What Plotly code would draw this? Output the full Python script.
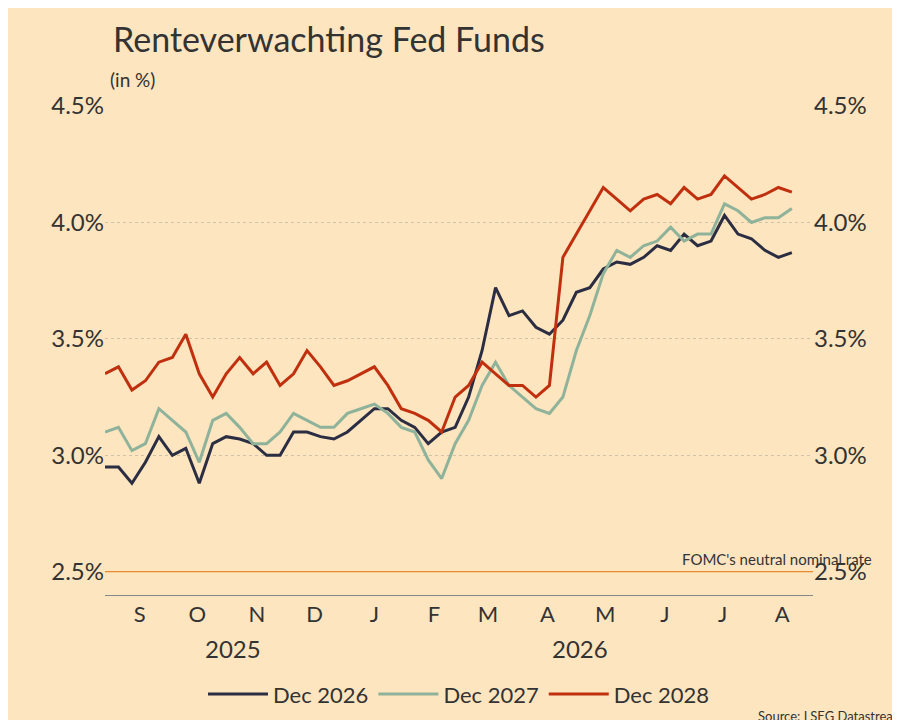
import pandas as pd
import plotly.graph_objects as go

dates = pd.date_range("2025-08-28", periods=52, freq="7D")
dec_2026 = [2.95, 2.95, 2.88, 2.97, 3.08, 3.00, 3.03, 2.88, 3.05, 3.08, 3.07, 3.05, 3.00,
            3.00, 3.10, 3.10, 3.08, 3.07, 3.10, 3.15, 3.20, 3.20, 3.15, 3.12, 3.05, 3.10,
            3.12, 3.25, 3.45, 3.72, 3.60, 3.62, 3.55, 3.52, 3.58, 3.70, 3.72, 3.80, 3.83,
            3.82, 3.85, 3.90, 3.88, 3.95, 3.90, 3.92, 4.03, 3.95, 3.93, 3.88, 3.85, 3.87]
dec_2027 = [3.10, 3.12, 3.02, 3.05, 3.20, 3.15, 3.10, 2.97, 3.15, 3.18, 3.12, 3.05, 3.05,
            3.10, 3.18, 3.15, 3.12, 3.12, 3.18, 3.20, 3.22, 3.18, 3.12, 3.10, 2.98, 2.90,
            3.05, 3.15, 3.30, 3.40, 3.30, 3.25, 3.20, 3.18, 3.25, 3.45, 3.60, 3.78, 3.88,
            3.85, 3.90, 3.92, 3.98, 3.92, 3.95, 3.95, 4.08, 4.05, 4.00, 4.02, 4.02, 4.06]
dec_2028 = [3.35, 3.38, 3.28, 3.32, 3.40, 3.42, 3.52, 3.35, 3.25, 3.35, 3.42, 3.35, 3.40,
            3.30, 3.35, 3.45, 3.38, 3.30, 3.32, 3.35, 3.38, 3.30, 3.20, 3.18, 3.15, 3.10,
            3.25, 3.30, 3.40, 3.35, 3.30, 3.30, 3.25, 3.30, 3.85, 3.95, 4.05, 4.15, 4.10,
            4.05, 4.10, 4.12, 4.08, 4.15, 4.10, 4.12, 4.20, 4.15, 4.10, 4.12, 4.15, 4.13]

month_ticks = pd.date_range("2025-09-01", periods=12, freq="MS") + pd.Timedelta(days=14)
month_labels = ["S", "O", "N", "D", "J", "F", "M", "A", "M", "J", "J", "A"]
y_ticks = [2.5, 3.0, 3.5, 4.0, 4.5]
y_labels = ["2.5%", "3.0%", "3.5%", "4.0%", "4.5%"]
neutral_rate = 2.5

FONT = "Lato"
BG = "#fde5bf"
L, R, T, B = 97, 95, 98, 133
x_end = pd.Timestamp("2026-08-31")

fig = go.Figure()
for name, vals, col in [("Dec 2026", dec_2026, "#2b2d42"),
                        ("Dec 2027", dec_2027, "#8fb39a"),
                        ("Dec 2028", dec_2028, "#c0300e")]:
    fig.add_trace(go.Scatter(x=dates, y=vals, name=name, mode="lines",
                             line=dict(color=col, width=3)))
fig.add_trace(go.Scatter(x=[dates[0], x_end], y=[neutral_rate] * 2,
                         mode="lines", line=dict(color="#e8892b", width=1.2),
                         showlegend=False, hoverinfo="skip"))
# invisible trace for right axis
fig.add_trace(go.Scatter(x=[dates[0]], y=[3], yaxis="y2", showlegend=False,
                         mode="markers", marker=dict(opacity=0)))

yax = dict(range=[2.4, 4.5], tickvals=y_ticks, ticktext=y_labels, showgrid=True,
           gridcolor="#cfc2a8", griddash="dot", zeroline=False, automargin=False,
           tickfont=dict(size=24, color="#333"), fixedrange=True)
fig.update_layout(
    width=900, height=720, paper_bgcolor=BG, plot_bgcolor=BG,
    font=dict(family=FONT, color="#333"),
    margin=dict(l=L, r=R, t=T, b=B, autoexpand=False),
    xaxis=dict(range=[dates[0], x_end], tickvals=month_ticks, automargin=False,
               ticktext=month_labels, tickfont=dict(size=22), showgrid=False,
               showline=True, linecolor="#888", ticks=""),
    yaxis=yax,
    yaxis2=dict(yax, overlaying="y", side="right", showgrid=False),
    legend=dict(orientation="h", x=0.5, xanchor="center", y=-0.16, yanchor="top",
                font=dict(size=22), itemwidth=60),
)
anns = [
    dict(text="Renteverwachting Fed Funds", x=103, y=30, font=dict(size=34)),
    dict(text="(in %)", x=100, y=72, font=dict(size=19)),
    dict(text="2025", x=225, y=640, font=dict(size=24), xanchor="center"),
    dict(text="2026", x=572, y=640, font=dict(size=24), xanchor="center"),
    dict(text="Source: LSEG Datastream", x=897, y=708, font=dict(size=13), xanchor="right"),
    dict(text="FOMC's neutral nominal rate", x=866, y=551, font=dict(size=15), xanchor="right"),
]
pw, ph = 900 - L - R, 720 - T - B
for a in anns:
    fig.add_annotation(text=a["text"], x=(a["x"] - L) / pw, y=1 - (a["y"] - T) / ph,
                       xref="paper", yref="paper", xanchor=a.get("xanchor", "left"),
                       yanchor="middle", showarrow=False, font=a["font"])
fig.write_html("out.html")
